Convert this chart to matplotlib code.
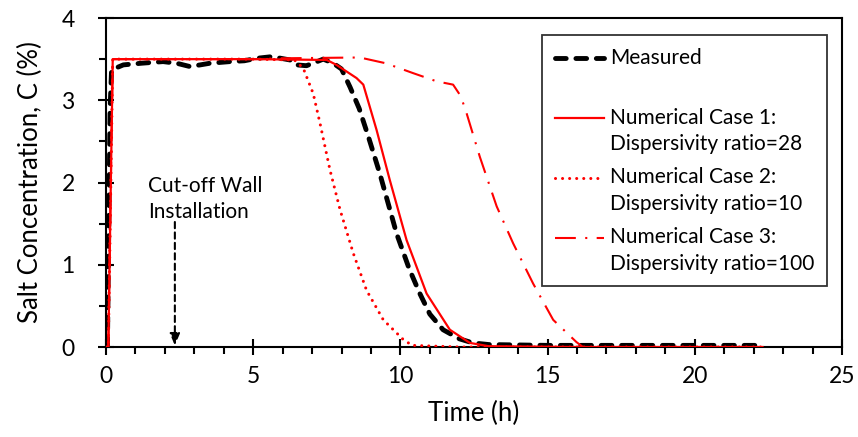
import matplotlib
matplotlib.use("Agg")
import matplotlib.pyplot as plt
from matplotlib.legend_handler import HandlerLine2D
from matplotlib.ticker import MultipleLocator

plt.rcParams['font.family'] = ['Lato', 'DejaVu Sans']

# measured salt concentration (%) vs time (h)
t_meas = [0.0, 0.05, 0.14, 0.19, 0.59, 1.2, 1.94, 2.4, 2.85, 3.2, 3.53, 4.21, 4.7,
          5.12, 5.63, 6.25, 6.47, 6.81, 7.1, 7.38, 7.72, 8.0, 8.29, 8.6, 8.91,
          9.3, 9.87, 10.3, 10.66, 11.0, 11.45, 12.0, 12.46, 13.0, 15.0, 18.0, 22.3]
c_meas = [0.0, 0.0, 2.9, 3.37, 3.43, 3.45, 3.47, 3.45, 3.41, 3.43, 3.45, 3.47, 3.48,
          3.51, 3.53, 3.49, 3.43, 3.42, 3.46, 3.50, 3.45, 3.38, 3.16, 2.9, 2.56,
          2.11, 1.38, 0.95, 0.65, 0.4, 0.21, 0.1, 0.05, 0.03, 0.02, 0.02, 0.02]

# numerical case 1: dispersivity ratio 28
t_case1 = [0.0, 0.08, 0.23, 2.0, 5.0, 7.5, 7.83, 8.17, 8.51, 8.74, 9.19, 9.64,
           10.21, 10.89, 11.68, 12.36, 13.0, 16.0, 22.3]
c_case1 = [0.0, 0.0, 3.5, 3.5, 3.5, 3.49, 3.43, 3.35, 3.27, 3.19, 2.64, 2.03,
           1.30, 0.65, 0.21, 0.05, 0.01, 0.0, 0.0]

# numerical case 2: dispersivity ratio 10
t_case2 = [0.0, 0.08, 0.23, 2.0, 5.0, 6.4, 6.70, 7.04, 7.27, 7.61, 7.95, 8.40,
           8.85, 9.42, 10.10, 10.4, 12.0, 16.0, 22.3]
c_case2 = [0.0, 0.0, 3.5, 3.5, 3.5, 3.49, 3.39, 3.08, 2.72, 2.15, 1.67, 1.14,
           0.69, 0.33, 0.09, 0.02, 0.0, 0.0, 0.0]

# numerical case 3: dispersivity ratio 100
t_case3 = [0.0, 0.08, 0.23, 2.0, 5.0, 5.91, 8.62, 9.5, 10.43, 11.23, 11.79, 12.05,
           12.25, 12.70, 13.27, 13.83, 14.51, 15.19, 15.98, 16.2, 19.0, 22.3]
c_case3 = [0.0, 0.0, 3.5, 3.5, 3.5, 3.51, 3.52, 3.45, 3.33, 3.23, 3.19, 3.05,
           2.84, 2.31, 1.71, 1.26, 0.77, 0.33, 0.06, 0.0, 0.0, 0.0]

wall_time = 2.34


class HandlerTop(HandlerLine2D):
    # put the legend line level with the first line of the label
    def __init__(self, shift, **kw):
        super().__init__(**kw)
        self.shift = shift

    def create_artists(self, legend, orig_handle, xdescent, ydescent,
                       width, height, fontsize, trans):
        arts = super().create_artists(legend, orig_handle, xdescent, ydescent,
                                      width, height, fontsize, trans)
        for a in arts:
            y = a.get_ydata()
            a.set_ydata([v + self.shift for v in y])
        return arts


fig = plt.figure(figsize=(8.58, 4.37), dpi=100)
ax = fig.add_axes([0.1235, 0.2059, 0.8579, 0.7529])

l_meas, = ax.plot(t_meas, c_meas, color='black', lw=3.5, dashes=(2.2, 2.0),
                  dash_capstyle='round', zorder=3)
l1, = ax.plot(t_case1, c_case1, color='#ff0000', lw=1.6, zorder=4)
l2, = ax.plot(t_case2, c_case2, color='#ff0000', lw=2.2,
              linestyle=(0, (0.01, 2.3)), dash_capstyle='round', zorder=4)
l3, = ax.plot(t_case3, c_case3, color='#ff0000', lw=1.5,
              linestyle=(0, (10, 4.5, 1, 4.5)), zorder=4)

ax.annotate('', xy=(wall_time, 0.02), xytext=(wall_time, 1.52),
            arrowprops=dict(arrowstyle='-|>,head_width=0.3,head_length=0.7',
                            color='black', lw=1.5, ls=(0, (3, 2)),
                            shrinkA=0, shrinkB=0))
ax.text(1.43, 1.80, 'Cut-off Wall\nInstallation', fontsize=15, va='center',
        ha='left', linespacing=1.4)

ax.set_xlim(0, 25)
ax.set_ylim(0, 4)
ax.xaxis.set_major_locator(MultipleLocator(5))
ax.xaxis.set_minor_locator(MultipleLocator(1))
ax.yaxis.set_major_locator(MultipleLocator(1))
ax.yaxis.set_minor_locator(MultipleLocator(0.5))
ax.tick_params(which='major', direction='inout', length=11, width=1.5,
               labelsize=16.5, top=False, right=False)
ax.tick_params(axis='x', which='major', pad=8.5)
ax.tick_params(axis='y', which='major', pad=17)
ax.tick_params(which='minor', direction='out', length=5, width=1.5,
               top=False, right=False)
for s in ax.spines.values():
    s.set_linewidth(1.5)

ax.set_xlabel('Time (h)', fontsize=18.5, labelpad=10)
ax.set_ylabel('Salt Concentration, C (%)', fontsize=18.5, labelpad=13)

shift = 9.7
leg = ax.legend([l_meas, l1, l2, l3],
                ['Measured\n ', 'Numerical Case 1:\nDispersivity ratio=28',
                 'Numerical Case 2:\nDispersivity ratio=10',
                 'Numerical Case 3:\nDispersivity ratio=100'],
                handler_map={l_meas: HandlerTop(shift), l1: HandlerTop(shift),
                             l2: HandlerTop(shift), l3: HandlerTop(shift)},
                loc='upper right', bbox_to_anchor=(0.98, 0.948),
                borderaxespad=0, fontsize=15, handlelength=2.35,
                handletextpad=0.32, borderpad=0.6, labelspacing=0.65,
                fancybox=False, frameon=True)
for txt in leg.get_texts():
    txt.set_linespacing(1.4)
leg.get_frame().set_edgecolor('black')
leg.get_frame().set_linewidth(1.3)

fig.savefig('out.png', dpi=100)
